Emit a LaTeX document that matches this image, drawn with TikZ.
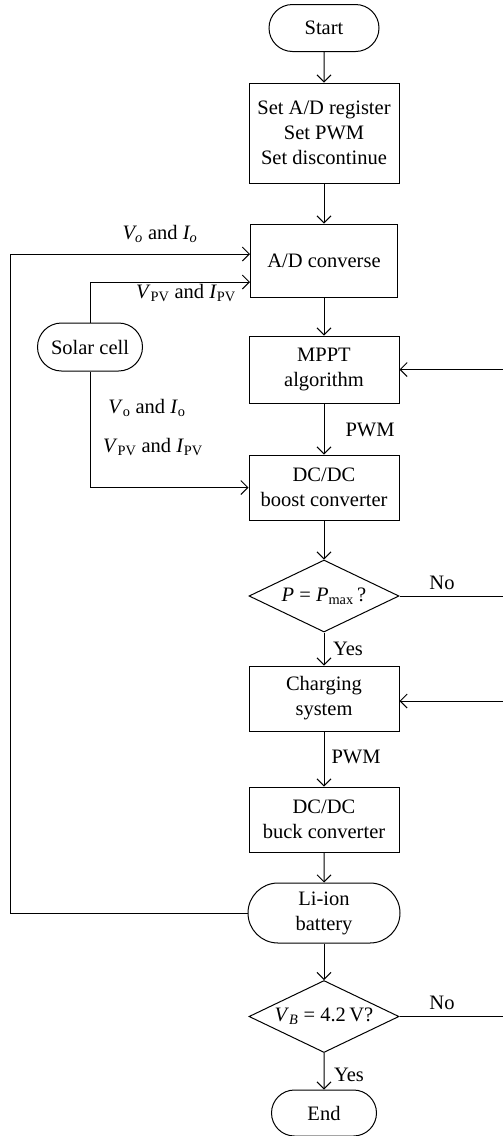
\documentclass[tikz,border=0pt]{standalone}
\usepackage{fontspec}
\setmainfont{Liberation Serif}
\usetikzlibrary{shapes.geometric,shapes.misc,arrows.meta}

\begin{document}
\begin{tikzpicture}[x=1pt,y=-1pt,
  every node/.style={font=\fontsize{20.5}{25}\selectfont},
  box/.style={draw,line width=1pt,align=center,inner sep=0pt,minimum width=150pt},
  term/.style={draw,line width=1pt,rounded rectangle,align=center,inner sep=0pt},
  test/.style={draw,line width=1pt,diamond,aspect=2,inner sep=0pt,minimum width=150pt,minimum height=72pt},
  arr/.style={line width=1pt,-{Straight Barb[length=7pt,width=14pt]}},
  wire/.style={line width=1pt}]
  \useasboundingbox (0,0) rectangle (503,1136);
  \node[term,minimum width=110pt,minimum height=47pt] (start) at (324,28) {Start};
  \node[box,minimum height=100pt] (setup) at (324,133) {Set A/D register\\Set PWM\\Set discontinue};
  \node[box,minimum width=147pt,minimum height=73pt] (adc) at (324,260.5) {A/D converse};
  \node[box,minimum height=67pt] (mppt) at (324,369.5) {MPPT\\algorithm};
  \node[box,minimum height=65pt] (boost) at (324,487.5) {DC/DC\\boost converter};
  \node[test] (pcheck) at (324,596) {\textit{P} = \textit{P}\textsubscript{max}\,?};
  \node[box,minimum height=65pt] (charge) at (324,698.5) {Charging\\system};
  \node[box,minimum height=65pt] (buck) at (324,819.5) {DC/DC\\buck converter};
  \node[term,minimum width=152pt,minimum height=60pt] (battery) at (324,913) {Li-ion\\battery};
  \node[test] (vcheck) at (324,1016.5) {\textit{V}\textsubscript{\textit{B}} = 4.2\,V?};
  \node[term,minimum width=105pt,minimum height=46pt] (finish) at (324,1113) {End};
  \node[term,minimum width=105pt,minimum height=48pt] (solar) at (90,347) {Solar cell};
  \coordinate (loop) at (10,254);
  \coordinate (rim) at (503,0);
  \draw[arr] (start) -- (setup);
  \draw[arr] (setup) -- (adc);
  \draw[arr] (adc) -- (mppt);
  \draw[arr] (mppt) -- (boost);
  \draw[arr] (boost) -- (pcheck);
  \draw[arr] (pcheck) -- (charge);
  \draw[arr] (charge) -- (buck);
  \draw[arr] (buck) -- (battery);
  \draw[arr] (battery) -- (vcheck);
  \draw[arr] (vcheck) -- (finish);
  \draw[arr] (battery.west) -| (loop) -- (loop -| adc.west);
  \draw[arr] (solar.north) |- ([yshift=-21.5pt]adc.west);
  \draw[arr] (solar.south) |- (boost.west);
  \draw[wire] (pcheck.east) -- (pcheck.east -| rim);
  \draw[wire] (vcheck.east) -- (vcheck.east -| rim);
  \draw[arr] (mppt.east -| rim) -- (mppt.east);
  \draw[arr] ([yshift=-2.5pt]charge.east -| rim) -- ([yshift=-2.5pt]charge.east);
  \node (volbl) at (160,234) {\textit{V\textsubscript{o}} and \textit{I\textsubscript{o}}};
  \node (pvlbl) at (186,293) {\textit{V}\textsubscript{PV} and \textit{I}\textsubscript{PV}};
  \node (volbl2) at (147,408) {\textit{V}\textsubscript{o} and \textit{I}\textsubscript{o}};
  \node (pvlbl2) at (153,447) {\textit{V}\textsubscript{PV} and \textit{I}\textsubscript{PV}};
  \node (pwm1) at (370,430) {PWM};
  \node (pwm2) at (356,757) {PWM};
  \node (yes1) at (348,649) {Yes};
  \node (yes2) at (349,1075) {Yes};
  \node (no1) at (442,583) {No};
  \node (no2) at (442,1003) {No};
\end{tikzpicture}
\end{document}
